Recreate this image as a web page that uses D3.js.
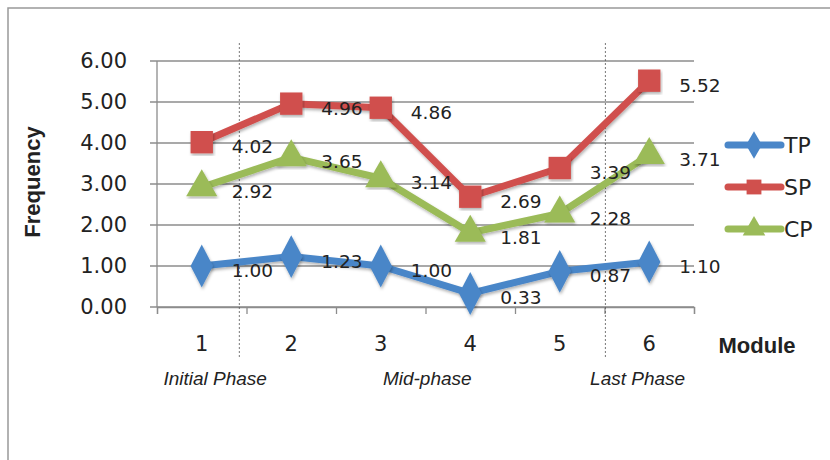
<!DOCTYPE html>
<html>
<head>
<meta charset="utf-8">
<script src="https://cdn.jsdelivr.net/npm/d3@7"></script>
<style>
  body { margin: 0; background: #fff; }
  text { font-family: "DejaVu Sans", sans-serif; fill: #222; }
</style>
</head>
<body>
<div id="chart"></div>
<script>
// modules on the x axis
let modules = ['1', '2', '3', '4', '5', '6'];

// series values
let tpValues = [1.00, 1.23, 1.00, 0.33, 0.87, 1.10];
let spValues = [4.02, 4.96, 4.86, 2.69, 3.39, 5.52];
let cpValues = [2.92, 3.65, 3.14, 1.81, 2.28, 3.71];

let seriesNames = ['TP', 'SP', 'CP'];
let yTicks = [0, 1, 2, 3, 4, 5, 6];

// phase captions under the axis, centred at these module positions
let phaseLabels = ['Initial Phase', 'Mid-phase', 'Last Phase'];
let phaseAt = [1.15, 3.52, 5.87];
// dotted dividers between phases, in module units
let phaseBreaks = [1.42, 5.51];

let colors = {TP: '#4a86c8', SP: '#d0504d', CP: '#9bbb59'};
let shapes = {TP: d3.symbolDiamond, SP: d3.symbolSquare, CP: d3.symbolTriangle};

let width = 830, height = 460;

let svg = d3.select('#chart')
			.append('svg')
			.attr('width', width)
			.attr('height', height);

// outer frame of the chart
svg.append('path')
	.attr('d', 'M8,' + height + ' L8,8 L' + width + ',8')
	.attr('fill', 'none')
	.attr('stroke', '#999')
	.attr('stroke-width', 1.5);

let x = d3.scaleBand().domain(modules).range([157, 694]);
let xLin = d3.scaleLinear().domain([0.5, 6.5]).range([157, 694]);
let y = d3.scaleLinear().domain([0, 6]).range([307, 61]);

// horizontal gridlines with their little tick stubs
svg.append('g')
	.selectAll('line')
	.data(yTicks)
	.join('line')
	.attr('x1', 150)
	.attr('x2', 694)
	.attr('y1', d => y(d))
	.attr('y2', d => y(d))
	.attr('stroke', '#8c8c8c')
	.attr('stroke-width', 1.3);

// y axis labels
svg.append('g')
	.selectAll('text')
	.data(yTicks)
	.join('text')
	.attr('x', 127)
	.attr('y', d => y(d) + 7)
	.attr('text-anchor', 'end')
	.style('font-size', '21px')
	.text(d => d.toFixed(2));

// left axis line
svg.append('line')
	.attr('x1', 157).attr('x2', 157)
	.attr('y1', y(6)).attr('y2', y(0))
	.attr('stroke', '#8c8c8c')
	.attr('stroke-width', 1.3);

// bottom axis with ticks at category edges
let xAxis = d3.axisBottom(xLin)
			.tickValues(d3.range(0.5, 7, 1))
			.tickSize(7)
			.tickFormat('');
let gx = svg.append('g')
			.attr('transform', 'translate(0,' + y(0) + ')')
			.call(xAxis);
gx.selectAll('line, path').attr('stroke', '#8c8c8c').attr('stroke-width', 1.3);

svg.append('g')
	.selectAll('text')
	.data(modules)
	.join('text')
	.attr('x', d => x(d) + x.bandwidth() / 2)
	.attr('y', 351)
	.attr('text-anchor', 'middle')
	.style('font-size', '21px')
	.text(d => d);

// phase dividers
svg.append('g')
	.selectAll('line')
	.data(phaseBreaks)
	.join('line')
	.attr('x1', d => xLin(d))
	.attr('x2', d => xLin(d))
	.attr('y1', 43)
	.attr('y2', 358)
	.attr('stroke', '#555')
	.attr('stroke-width', 0.8)
	.attr('stroke-dasharray', '2,2');

svg.append('g')
	.selectAll('text')
	.data(phaseLabels)
	.join('text')
	.attr('x', (d, i) => xLin(phaseAt[i]))
	.attr('y', 385)
	.attr('text-anchor', 'middle')
	.style('font-family', '"Liberation Sans", Arial, sans-serif')
	.style('font-style', 'italic')
	.style('font-size', '19px')
	.text(d => d);

// axis titles
svg.append('text')
	.attr('x', 757)
	.attr('y', 353)
	.attr('text-anchor', 'middle')
	.style('font-family', '"Liberation Sans", Arial, sans-serif')
	.style('font-weight', 'bold')
	.style('font-size', '22px')
	.text('Module');

svg.append('text')
	.attr('transform', 'translate(40,182) rotate(-90)')
	.attr('text-anchor', 'middle')
	.style('font-family', '"Liberation Sans", Arial, sans-serif')
	.style('font-weight', 'bold')
	.style('font-size', '22px')
	.text('Frequency');

let defs = svg.append('defs');
defs.append('filter')
	.attr('id', 'shadow')
	.append('feDropShadow')
	.attr('dx', 1).attr('dy', 2)
	.attr('stdDeviation', 1.5)
	.attr('flood-opacity', 0.3);

let series = [
	{name: 'TP', values: tpValues},
	{name: 'SP', values: spValues},
	{name: 'CP', values: cpValues}
];

let line = d3.line()
			.x((d, i) => x(modules[i]) + x.bandwidth() / 2)
			.y(d => y(d));

let symbolSize = {TP: 480, SP: 500, CP: 420};

// lines, markers
series.forEach(s => {
	let g = svg.append('g');
	g.append('path')
		.attr('d', line(s.values))
		.attr('fill', 'none')
		.attr('stroke', colors[s.name])
		.attr('stroke-width', 7)
		.attr('stroke-linejoin', 'round')
		.attr('filter', 'url(#shadow)');
	g.selectAll('.mark')
		.data(s.values)
		.join('path')
		.attr('class', 'mark')
		.attr('d', d3.symbol().type(shapes[s.name]).size(symbolSize[s.name]))
		.attr('transform', (d, i) => 'translate(' + (x(modules[i]) + x.bandwidth() / 2) + ',' + y(d) + ')' + (s.name == 'TP' ? ' scale(0.95,1.05)' : ''))
		.attr('fill', colors[s.name])
		.attr('filter', 'url(#shadow)');
});

// value labels
series.forEach(s => {
	svg.append('g')
		.selectAll('text')
		.data(s.values)
		.join('text')
		.attr('x', (d, i) => x(modules[i]) + x.bandwidth() / 2 + 30)
		.attr('y', d => y(d) + 11)
		.style('font-size', '18.5px')
		.text(d => d.toFixed(2));
});

// legend
let legend = svg.append('g')
				.selectAll('g')
				.data(seriesNames)
				.join('g')
				.attr('transform', (d, i) => 'translate(725,' + (145 + i * 42) + ')');
legend.append('line')
	.attr('x1', 3).attr('x2', 56)
	.attr('stroke', d => colors[d])
	.attr('stroke-width', 7)
	.attr('stroke-linecap', 'round');
legend.append('path')
	.attr('d', d => d3.symbol().type(shapes[d]).size(220)())
	.attr('transform', 'translate(29,0)')
	.attr('fill', d => colors[d]);
legend.append('text')
	.attr('x', 59)
	.attr('y', 8)
	.style('font-size', '22px')
	.text(d => d);
</script>
</body>
</html>
